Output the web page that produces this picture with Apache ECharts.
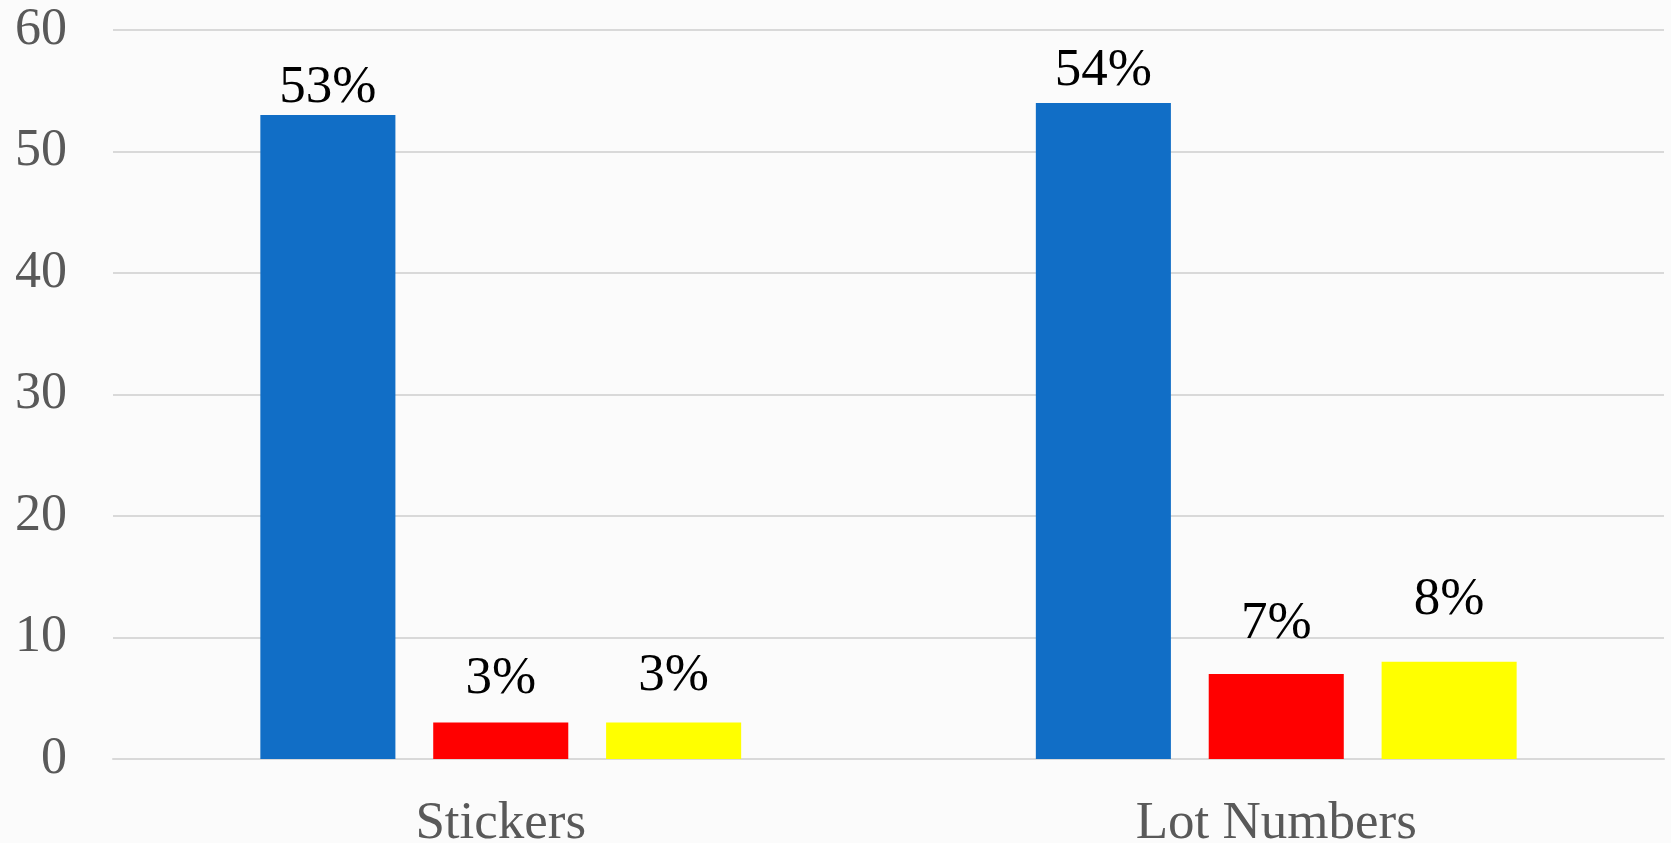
<!DOCTYPE html>
<html>
<head>
<meta charset="utf-8">
<script src="https://cdn.jsdelivr.net/npm/echarts@6/dist/echarts.min.js"></script>
<style>
  html, body { margin: 0; padding: 0; background: #fbfbfb; }
  #chart { width: 1671px; height: 843px; }
</style>
</head>
<body>
<div id="chart"></div>
<script>
// Categories and the three measured groups (percent of respondents)
const categories = ['Stickers', 'Lot Numbers'];
const blueValues = [53, 54];
const redValues = [3, 7];
const yellowValues = [3, 8];
const yTicks = { min: 0, max: 60, interval: 10 };

// Extra space between each bar top and its value label
const blueLabelGap = [0, 5];
const redLabelGap = [17, 23];
const yellowLabelGap = [20, 35];

const serif = '"Liberation Serif", "Times New Roman", serif';

function makeSeries(values, gaps, color) {
  return {
    type: 'bar',
    data: values.map((v, i) => ({
      value: v,
      label: { distance: gaps[i] }
    })),
    itemStyle: { color: color },
    barGap: '28%',
    barCategoryGap: '38%',
    label: {
      show: true,
      position: 'top',
      formatter: '{c}%',
      color: '#000000',
      fontFamily: serif,
      fontSize: 53
    }
  };
}

const chart = echarts.init(document.getElementById('chart'));
chart.setOption({
  backgroundColor: '#fbfbfb',
  animation: false,
  grid: {
    left: 113, right: 7, top: 30, bottom: 84,
    containLabel: false,
    outerBoundsMode: 'none'
  },
  xAxis: {
    type: 'category',
    data: categories,
    axisTick: { show: false },
    axisLine: { lineStyle: { color: '#d9d9d9', width: 2 } },
    axisLabel: {
      color: '#595959',
      fontFamily: serif,
      fontSize: 53,
      margin: 39
    }
  },
  yAxis: {
    type: 'value',
    min: yTicks.min,
    max: yTicks.max,
    interval: yTicks.interval,
    axisLine: { show: false },
    axisTick: { show: false },
    splitLine: { lineStyle: { color: '#d9d9d9', width: 2 } },
    axisLabel: {
      color: '#595959',
      fontFamily: serif,
      fontSize: 52,
      margin: 46
    }
  },
  series: [
    makeSeries(blueValues, blueLabelGap, '#116ec6'),
    makeSeries(redValues, redLabelGap, '#ff0000'),
    makeSeries(yellowValues, yellowLabelGap, '#ffff00')
  ]
});
</script>
</body>
</html>
